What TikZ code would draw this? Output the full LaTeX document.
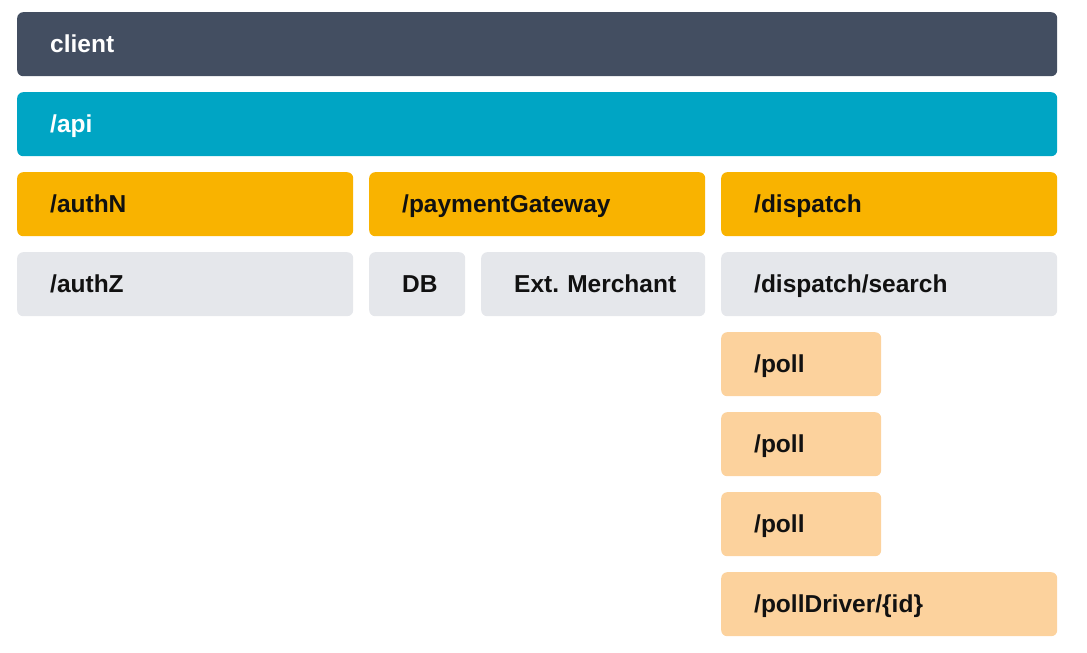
\documentclass[tikz,border=0pt]{standalone}
\usepackage{fontspec}
\setmainfont{Liberation Sans}
\definecolor{clientc}{HTML}{434E61}
\definecolor{apic}{HTML}{00A5C4}
\definecolor{ambc}{HTML}{F9B300}
\definecolor{grayc}{HTML}{E5E7EB}
\definecolor{peachc}{HTML}{FCD29D}
\definecolor{inkc}{HTML}{111111}
\begin{document}
\begin{tikzpicture}[x=1pt,y=-1pt,
  box/.style={rounded corners=6pt, anchor=north west, minimum height=64pt,
    inner ysep=0pt, inner xsep=33pt, align=left, text height=17.5pt, text depth=0pt,
    font=\bfseries\fontsize{24.5}{27}\selectfont\frenchspacing, text=inkc},
  w1040/.style={text width=974pt},
  w336/.style={text width=270pt},
  w96/.style={text width=30pt},
  w224/.style={text width=158pt},
  w160/.style={text width=94pt},
  darkbox/.style={box, fill=clientc, text=white},
  apibox/.style={box, fill=apic, text=white},
  ambbox/.style={box, fill=ambc},
  graybox/.style={box, fill=grayc},
  peachbox/.style={box, fill=peachc}]
\useasboundingbox (0,0) rectangle (1087,653);
\node[darkbox, w1040] (client) at (17,12) {client};
\node[apibox, w1040] (api) at (17,92) {/api};
\node[ambbox, w336] (authN) at (17,172) {/authN};
\node[ambbox, w336] (pay) at (369,172) {/paymentGateway};
\node[ambbox, w336] (disp) at (721,172) {/dispatch};
\node[graybox, w336] (authZ) at (17,252) {/authZ};
\node[graybox, w96] (db) at (369,252) {\mbox{DB}};
\node[graybox, w224] (ext) at (481,252) {\mbox{Ext. Merchant}};
\node[graybox, w336] (search) at (721,252) {/dispatch/search};
\node[peachbox, w160] (poll1) at (721,332) {/poll};
\node[peachbox, w160] (poll2) at (721,412) {/poll};
\node[peachbox, w160] (poll3) at (721,492) {/poll};
\node[peachbox, w336] (driver) at (721,572) {/pollDriver/\{id\}};
\end{tikzpicture}
\end{document}
